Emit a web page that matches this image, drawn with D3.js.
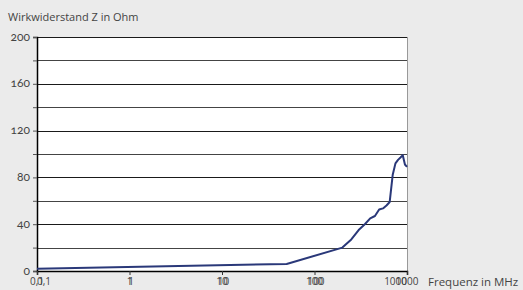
<!DOCTYPE html>
<html>
<head>
<meta charset="utf-8">
<script src="https://cdn.jsdelivr.net/npm/d3@7"></script>
<style>
  body { margin: 0; background: #ebebeb; }
  svg { display: block; font-family: "Open Sans", Lato, sans-serif; }
  text { fill: #444; }
  .onum { font-family: Lato, "Open Sans", sans-serif; font-variant-numeric: oldstyle-nums; font-feature-settings: "onum" 1; }
</style>
</head>
<body>
<svg></svg>
<script>
// frequency in MHz and resistance in Ohm
let freqs  = [0.1, 50, 200, 250, 300, 350, 400, 450, 500, 550, 600, 650, 700, 750, 800, 850, 900, 950, 1000]
let ohms   = [2, 6, 20, 27, 35, 40, 45, 47, 52.5, 53.5, 56, 59, 82, 92, 95, 97, 99, 91, 89]
let xTicks = [0.1, 1, 10, 100, 1000]
let xLabels = ["0,1", "1", "10", "100", "1000"]
let yTicks = [0, 20, 40, 60, 80, 100, 120, 140, 160, 180, 200]
let yLabels = [0, 40, 80, 120, 160, 200]

let data = freqs.map((f, i) => ({f: f, z: ohms[i]}))

let svgWidth = 523, svgHeight = 290
let svg = d3.select('svg').attr('width', svgWidth).attr('height', svgHeight)

let plotLeft = 37, plotRight = 407, plotTop = 37, plotBottom = 271

let x = d3.scaleLog().domain([0.1, 1000]).range([plotLeft, plotRight])
let y = d3.scaleLinear().domain([0, 200]).range([plotBottom, plotTop])

// PLOT AREA
svg.append('rect')
    .attr('x', plotLeft).attr('y', plotTop)
    .attr('width', plotRight - plotLeft).attr('height', plotBottom - plotTop)
    .attr('fill', '#fff')

// GRID
svg.append('g').selectAll('line')
    .data(yTicks.filter(d => d > 0))
    .enter().append('line')
    .attr('x1', plotLeft).attr('x2', plotRight)
    .attr('y1', d => Math.round(y(d)) + 0.5).attr('y2', d => Math.round(y(d)) + 0.5)
    .attr('stroke', (d, i) => i % 2 ? '#1a1a1a' : '#444')

// right border
svg.append('line')
    .attr('x1', plotRight + 0.5).attr('x2', plotRight + 0.5)
    .attr('y1', plotTop).attr('y2', plotBottom)
    .attr('stroke', '#999')

// Y AXIS
let yAxis = svg.append('g').attr('transform', `translate(${plotLeft},0)`)
    .call(d3.axisLeft(y).tickValues(yTicks).tickSize(4).tickFormat(''))
yAxis.select('.domain').attr('stroke', '#000').attr('stroke-width', 1.5)
yAxis.selectAll('.tick line').attr('stroke', '#555')

svg.append('g').selectAll('text')
    .data(yLabels)
    .enter().append('text')
    .attr('class', 'onum')
    .attr('x', 30).attr('y', d => y(d) + 3.5)
    .attr('text-anchor', 'end')
    .attr('font-size', 12)
    .text(d => d)

// X AXIS
let xAxis = svg.append('g').attr('transform', `translate(0,${plotBottom})`)
    .call(d3.axisBottom(x).tickValues(xTicks).tickSize(4).tickFormat(''))
xAxis.select('.domain').attr('stroke', '#000').attr('stroke-width', 1.5)
xAxis.selectAll('.tick line').attr('stroke', '#333')

// two overlapping label rows, as in the source
let lab = svg.append('g').attr('font-size', 10)
lab.selectAll('text.a')
    .data(xTicks)
    .enter().append('text')
    .attr('class', 'a')
    .attr('x', d => x(d)).attr('y', plotBottom + 14)
    .attr('text-anchor', 'middle')
    .text((d, i) => xLabels[i])
lab.selectAll('text.b')
    .data(xTicks)
    .enter().append('text')
    .attr('class', 'b')
    .attr('x', (d, i) => x(d) + (i == 0 || i == xTicks.length - 1 ? 0 : 1.5))
    .attr('y', plotBottom + 14)
    .attr('text-anchor', (d, i) => i == 0 ? 'start' : i == xTicks.length - 1 ? 'end' : 'middle')
    .text((d, i) => xLabels[i])

// LINE
let line = d3.line().x(d => x(d.f)).y(d => y(d.z))
svg.append('path')
    .datum(data)
    .attr('d', line)
    .attr('fill', 'none')
    .attr('stroke', '#2a3879')
    .attr('stroke-width', 2)
    .attr('stroke-linejoin', 'round')

// TITLES
svg.append('text')
    .attr('x', 8).attr('y', 21)
    .attr('font-size', 11)
    .text('Wirkwiderstand Z in Ohm')
svg.append('text')
    .attr('x', 428).attr('y', 286)
    .attr('font-size', 11.5)
    .text('Frequenz in MHz')
</script>
</body>
</html>
